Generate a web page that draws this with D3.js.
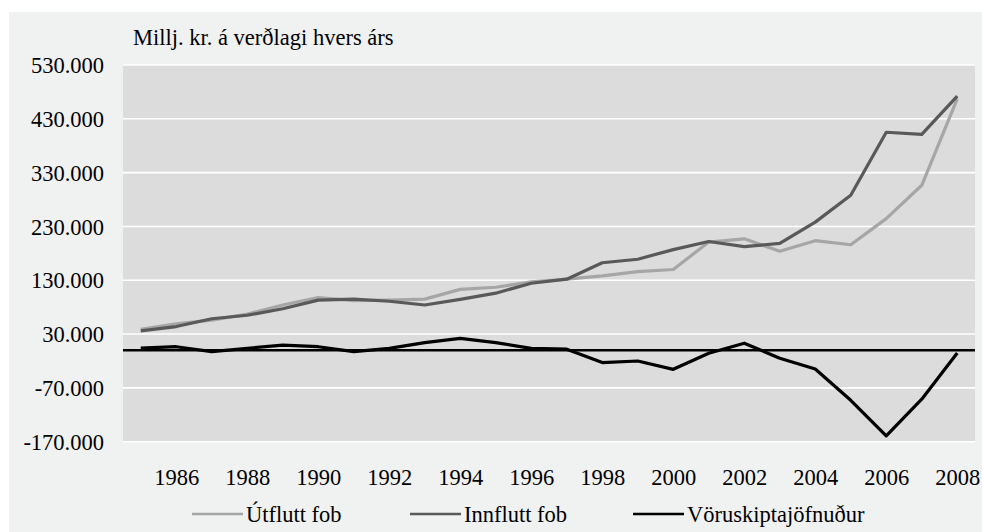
<!DOCTYPE html>
<html>
<head>
<meta charset="utf-8">
<script src="https://cdn.jsdelivr.net/npm/d3@7"></script>
<style>
  html, body { margin: 0; padding: 0; background: #ffffff; }
  svg { display: block; }
  text { font-family: "Liberation Serif", "Tinos", "Times New Roman", "DejaVu Serif", serif; fill: #000; }
</style>
</head>
<body>
<svg id="chart" width="982" height="532"></svg>
<script>
// Data (millj. kr.)
const years = [1985,1986,1987,1988,1989,1990,1991,1992,1993,1994,1995,1996,1997,1998,1999,2000,2001,2002,2003,2004,2005,2006,2007,2008];
const utflutt = [39000,49000,56000,67000,84000,98000,92000,93000,95000,113000,117000,127000,132000,138000,146000,150000,201000,207000,184000,203500,196000,244500,306500,467000];
const innflutt = [36000,44000,58500,65000,77000,93000,95000,91000,84000,94500,106000,124500,132000,162500,169000,187000,202000,192500,198500,238000,288000,405000,401000,472000];
const jofnudur = [4000,6500,-2500,3500,9500,6500,-2500,3500,14000,22000,14000,3500,2000,-23000,-20000,-35500,-5500,13000,-15000,-35000,-93000,-159000,-91000,-5000];
const yTicks = [530000,430000,330000,230000,130000,30000,-70000,-170000];
const xTickYears = [1986,1988,1990,1992,1994,1996,1998,2000,2002,2004,2006,2008];
const seriesNames = ["Útflutt fob","Innflutt fob","Vöruskiptajöfnuður"];
const seriesColors = ["#a6a6a6","#595959","#000000"];
const unitLabel = "Millj. kr. á verðlagi hvers árs";

const FONT = "Liberation Serif, Tinos, Times New Roman, DejaVu Serif, serif";
const FS = 22.5;

const svg = d3.select("#chart");
const plot = {left: 123, right: 975, top: 65, bottom: 441.7};

// Outer panel
svg.append("rect").attr("x", 9).attr("y", 12).attr("width", 973).attr("height", 520).attr("fill", "#f0f1f1");
// Plot area
svg.append("rect").attr("x", plot.left).attr("y", plot.top)
  .attr("width", plot.right - plot.left).attr("height", plot.bottom - plot.top).attr("fill", "#dcdcdc");

const x = d3.scalePoint().domain(years).range([plot.left, plot.right]).padding(0.5);
const y = d3.scaleLinear().domain([-170000, 530000]).range([plot.bottom, plot.top]);

const fmt = v => d3.format(",")(v).replace(/,/g, ".").replace("−", "-");

// Gridlines
svg.append("g").selectAll("line").data(yTicks).join("line")
  .attr("x1", plot.left).attr("x2", plot.right)
  .attr("y1", d => y(d)).attr("y2", d => y(d))
  .attr("stroke", "#ffffff").attr("stroke-width", 1.6);

// Y axis labels
const yAxis = d3.axisLeft(y).tickValues(yTicks).tickSize(0).tickPadding(0).tickFormat(fmt);
const yg = svg.append("g").attr("transform", `translate(104,0)`).call(yAxis);
yg.attr("font-family", FONT).attr("font-size", FS);
yg.select(".domain").remove();
yg.selectAll("text").attr("fill", "#000").attr("dy", "0.34em");

// X axis labels
const xAxis = d3.axisBottom(x).tickValues(xTickYears).tickSize(0).tickPadding(0).tickFormat(d3.format("d"));
const xg = svg.append("g").attr("transform", `translate(0,485)`).call(xAxis);
xg.attr("font-family", FONT).attr("font-size", FS);
xg.select(".domain").remove();
xg.selectAll("text").attr("fill", "#000").attr("dy", 0);

// Unit label
svg.append("text").attr("x", 133).attr("y", 45).attr("font-size", FS).text(unitLabel);

// Zero line
svg.append("line").attr("x1", plot.left).attr("x2", plot.right)
  .attr("y1", y(0)).attr("y2", y(0)).attr("stroke", "#000").attr("stroke-width", 2.5);

// Series
const line = d3.line().x((d, i) => x(years[i])).y(d => y(d));
[utflutt, innflutt, jofnudur].forEach((s, k) => {
  svg.append("path").datum(s).attr("d", line).attr("fill", "none")
    .attr("stroke", seriesColors[k]).attr("stroke-width", 3.2).attr("stroke-linejoin", "round");
});

// Legend
const legendX = [192, 410, 633];
seriesNames.forEach((name, k) => {
  const g = svg.append("g").attr("transform", `translate(${legendX[k]},514)`);
  g.append("line").attr("x1", 0).attr("x2", 51).attr("y1", 0).attr("y2", 0)
    .attr("stroke", seriesColors[k]).attr("stroke-width", 2.4);
  g.append("text").attr("x", 54).attr("y", 8).attr("font-size", FS).text(name);
});
</script>
</body>
</html>
